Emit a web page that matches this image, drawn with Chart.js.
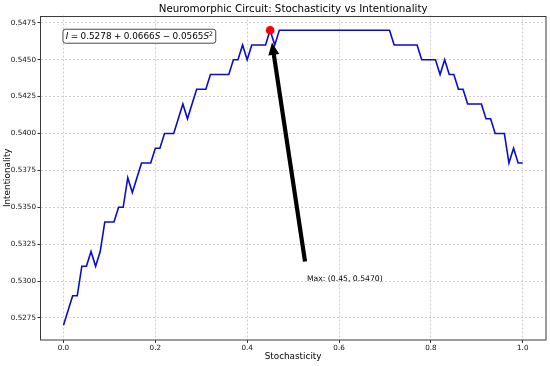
<!DOCTYPE html>
<html><head><meta charset="utf-8">
<script src="https://cdn.jsdelivr.net/npm/chart.js@4.4.1/dist/chart.umd.min.js"></script>
<style>html,body{margin:0;padding:0;background:#fff}#wrap{width:550px;height:366px}</style>
</head><body><div id="wrap"><canvas id="c" width="550" height="366"></canvas></div>
<script>
// ---- data ----
const stochasticity = [
  0.00,0.01,0.02,0.03,0.04,0.05,0.06,0.07,0.08,0.09,
  0.10,0.11,0.12,0.13,0.14,0.15,0.16,0.17,0.18,0.19,
  0.20,0.21,0.22,0.23,0.24,0.25,0.26,0.27,0.28,0.29,
  0.30,0.31,0.32,0.33,0.34,0.35,0.36,0.37,0.38,0.39,
  0.40,0.41,0.42,0.43,0.44,0.45,0.46,0.47,0.48,0.49,
  0.50,0.51,0.52,0.53,0.54,0.55,0.56,0.57,0.58,0.59,
  0.60,0.61,0.62,0.63,0.64,0.65,0.66,0.67,0.68,0.69,
  0.70,0.71,0.72,0.73,0.74,0.75,0.76,0.77,0.78,0.79,
  0.80,0.81,0.82,0.83,0.84,0.85,0.86,0.87,0.88,0.89,
  0.90,0.91,0.92,0.93,0.94,0.95,0.96,0.97,0.98,0.99,
  1.00
];
const intentionality = [
  0.527,0.528,0.529,0.529,0.531,0.531,0.532,0.531,0.532,0.534,
  0.534,0.534,0.535,0.535,0.537,0.536,0.537,0.538,0.538,0.538,
  0.539,0.539,0.540,0.540,0.540,0.541,0.542,0.541,0.542,0.543,
  0.543,0.543,0.544,0.544,0.544,0.544,0.544,0.545,0.545,0.546,
  0.545,0.546,0.546,0.546,0.546,0.547,0.546,0.547,0.547,0.547,
  0.547,0.547,0.547,0.547,0.547,0.547,0.547,0.547,0.547,0.547,
  0.547,0.547,0.547,0.547,0.547,0.547,0.547,0.547,0.547,0.547,
  0.547,0.547,0.546,0.546,0.546,0.546,0.546,0.546,0.545,0.545,
  0.545,0.545,0.544,0.545,0.544,0.544,0.543,0.543,0.542,0.542,
  0.542,0.542,0.541,0.541,0.540,0.540,0.540,0.538,0.539,0.538,
  0.538
];
const maxPoint = [0.45, 0.547];
const annotationTextPos = [0.53, 0.530];
const annotationText = 'Max: (0.45, 0.5470)';
const xTickValues = [0.0, 0.2, 0.4, 0.6, 0.8, 1.0];
const yTickValues = [0.5275, 0.5300, 0.5325, 0.5350, 0.5375, 0.5400, 0.5425, 0.5450, 0.5475];
const xRange = [-0.05, 1.05];
const yRange = [0.526, 0.548];
const titleText = 'Neuromorphic Circuit: Stochasticity vs Intentionality';
const xLabel = 'Stochasticity';
const yLabel = 'Intentionality';
const formulaParts = [
  {t:'I', it:true}, {t:'=', op:true}, {t:'0.5278'}, {t:'+', op:true}, {t:'0.0666'}, {t:'S', it:true},
  {t:'\u2212', op:true}, {t:'0.0565'}, {t:'S', it:true}, {t:'2', sup:true}
];

const FONT = '"DejaVu Sans", "Liberation Sans", sans-serif';
Chart.defaults.font.family = FONT;

const overlay = {
  id: 'overlay',
  afterDatasetsDraw(chart) {
    const {ctx, chartArea: a} = chart;
    const xs = chart.scales.x, ys = chart.scales.y;
    ctx.save();
    // frame
    ctx.strokeStyle = '#3a3a3a';
    ctx.lineWidth = 1;
    ctx.strokeRect(Math.round(a.left) - 0.5, Math.round(a.top) + 0.5, Math.round(a.right) - Math.round(a.left) + 0.5, Math.round(a.bottom) - Math.round(a.top) - 0.5);

    // title centred over the axes
    ctx.font = `10.3px ${FONT}`;
    ctx.fillStyle = '#000';
    ctx.textAlign = 'center';
    ctx.textBaseline = 'alphabetic';
    ctx.fillText(titleText, (a.left + a.right) / 2, 12.2);

    // annotation text
    const afs = 7.7;
    ctx.font = `${afs}px ${FONT}`;
    ctx.fillStyle = '#000';
    ctx.textAlign = 'left';
    const tx = xs.getPixelForValue(annotationTextPos[0]);
    const ty = ys.getPixelForValue(annotationTextPos[1]);
    ctx.fillText(annotationText, tx, ty);

    // arrow
    const ax = tx, ay = ty - afs * 0.95;
    const bx = xs.getPixelForValue(maxPoint[0]), by = ys.getPixelForValue(maxPoint[1]);
    let dx = bx - ax, dy = by - ay; const L = Math.hypot(dx, dy);
    const ux = dx / L, uy = dy / L, nx = -uy, ny = ux;
    const sx = ax + ux * 0.05 * L, sy = ay + uy * 0.05 * L;
    const ex = bx - ux * 0.05 * L, ey = by - uy * 0.05 * L;
    const tw = 4.2, hw = 11, hl = 12.5;
    const hx = ex - ux * hl, hy = ey - uy * hl;
    ctx.beginPath();
    ctx.moveTo(sx + nx * tw / 2, sy + ny * tw / 2);
    ctx.lineTo(hx + nx * tw / 2, hy + ny * tw / 2);
    ctx.lineTo(hx + nx * hw / 2, hy + ny * hw / 2);
    ctx.lineTo(ex, ey);
    ctx.lineTo(hx - nx * hw / 2, hy - ny * hw / 2);
    ctx.lineTo(hx - nx * tw / 2, hy - ny * tw / 2);
    ctx.lineTo(sx - nx * tw / 2, sy - ny * tw / 2);
    ctx.closePath();
    ctx.fillStyle = '#000';
    ctx.fill();

    // formula box
    const ffs = 8.85;
    const gap = 0.27 * ffs;
    const fx = a.left + 0.05 * (a.right - a.left);
    const ftop = a.top + 0.05 * (a.bottom - a.top);
    const base = ftop + 7.4;
    const widths = formulaParts.map(p => {
      ctx.font = (p.it ? 'italic ' : '') + (p.sup ? ffs * 0.7 : ffs) + 'px ' + FONT;
      const mw = ctx.measureText(p.t).width;
      return mw + (p.op ? 2 * gap : 0);
    });
    const w = widths.reduce((s, v) => s + v, 0);
    const pad = 2.8;
    const bxl = fx - pad, bxt = ftop - pad + 0.3, bw = w + 2 * pad, bh = 14;
    ctx.beginPath();
    ctx.roundRect(bxl, bxt, bw, bh, 2.5);
    ctx.fillStyle = '#fff';
    ctx.fill();
    ctx.strokeStyle = '#333';
    ctx.lineWidth = 0.9;
    ctx.stroke();
    let cx = fx;
    ctx.fillStyle = '#000';
    formulaParts.forEach((p, i) => {
      ctx.font = (p.it ? 'italic ' : '') + (p.sup ? ffs * 0.7 : ffs) + 'px ' + FONT;
      const off = p.op ? gap : 0;
      ctx.fillText(p.t, cx + off, p.sup ? base - 3.6 : base);
      cx += widths[i];
    });
    ctx.restore();
  }
};

new Chart(document.getElementById('c'), {
  type: 'line',
  data: {
    datasets: [
      {
        type: 'scatter',
        data: [{x: maxPoint[0], y: maxPoint[1]}],
        backgroundColor: '#ff0000', borderColor: '#ff0000',
        pointRadius: 4.3, borderWidth: 0
      },
      {
        data: stochasticity.map((s, i) => ({x: s, y: intentionality[i]})),
        borderColor: '#0a0ad2', borderWidth: 1.6,
        pointRadius: 0, fill: false, tension: 0
      }
    ]
  },
  options: {
    responsive: false, animation: false, devicePixelRatio: 1,
    layout: {padding: {left: 0, right: 4, top: 15.5, bottom: 0}},
    plugins: {
      legend: {display: false}, tooltip: {enabled: false},
      title: {display: false}
    },
    scales: {
      x: {
        type: 'linear', min: xRange[0], max: xRange[1],
        afterBuildTicks: s => { s.ticks = xTickValues.map(v => ({value: v})); },
        afterFit: s => { s.height = 26; },
        ticks: {callback: v => Number(v).toFixed(1), font: {size: 7.2}, color: '#111', padding: 1, maxRotation: 0, autoSkip: false},
        grid: {color: 'rgba(175,175,175,0.75)', lineWidth: 0.8, tickColor: '#333', tickLength: 3, tickBorderDash: [], tickWidth: 1},
        border: {display: false, dash: [2, 2]},
        title: {display: true, text: xLabel, color: '#000', font: {size: 8.85}, padding: {top: 0, bottom: 3.7}}
      },
      y: {
        type: 'linear', min: yRange[0], max: yRange[1],
        afterBuildTicks: s => { s.ticks = yTickValues.map(v => ({value: v})); },
        afterFit: s => { s.width = 40.5; },
        ticks: {callback: v => Number(v).toFixed(4), font: {size: 7.2}, color: '#111', padding: 1.5, autoSkip: false},
        grid: {color: 'rgba(175,175,175,0.75)', lineWidth: 0.8, tickColor: '#333', tickLength: 3, tickBorderDash: [], tickWidth: 1},
        border: {display: false, dash: [2, 2]},
        title: {display: true, text: yLabel, color: '#000', font: {size: 8.85}, padding: {top: 2.7, bottom: 0}}
      }
    }
  },
  plugins: [overlay]
});
</script>
</body></html>
